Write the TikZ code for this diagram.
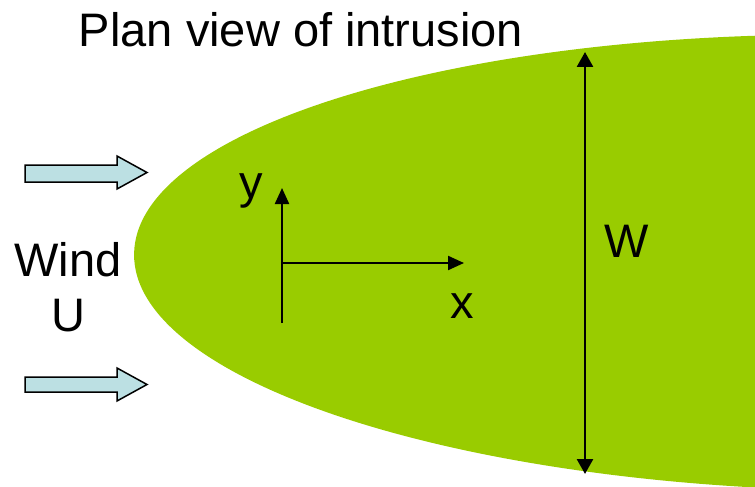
\documentclass[tikz,border=0pt]{standalone}
\usepackage{fontspec}
\setmainfont{Liberation Sans}
\usetikzlibrary{arrows.meta}
\definecolor{intrgreen}{HTML}{99CC00}
\definecolor{windblue}{HTML}{BCE0E3}
\tikzset{
  bigtext/.style={font=\fontsize{47}{55}\selectfont, inner sep=0pt},
  axisline/.style={line width=2.2pt, -{Triangle[length=16pt,width=14pt]}},
  wline/.style={line width=2.7pt, {Triangle[length=15pt,width=16pt]}-{Triangle[length=15pt,width=16pt]}},
  windarrow/.style={draw=black, line width=1.5pt, fill=windblue, line join=miter},
}
\begin{document}
\begin{tikzpicture}[x=1pt,y=-1pt]
\useasboundingbox (0,0) rectangle (755,487);
% intrusion
\begin{scope}
\clip (0,0) rectangle (755,487);
\fill[intrgreen, rotate around={-0.7:(854,262.7)}] (854,262.7) ellipse [x radius=720pt, y radius=228pt];
\end{scope}
% title
\node[bigtext, anchor=base] (title) at (301,47) {Plan view of intrusion};
% wind arrows
\draw[windarrow] (25,165) -- (117,165) -- (117,156) -- (147,172.5) -- (117,189) -- (117,182) -- (25,182) -- cycle;
\draw[windarrow] (25,377) -- (117,377) -- (117,368) -- (147,384.5) -- (117,401) -- (117,392) -- (25,392) -- cycle;
% wind label
\node[bigtext, anchor=north, align=center] (wind) at (68,242) {Wind\\U};
% axes
\coordinate (O) at (282,263);
\coordinate (ybot) at (282,323);
\coordinate (ytop) at (282,188);
\coordinate (xend) at (464,263);
\draw[axisline] (ybot) -- (ytop);
\draw[axisline] (O) -- (xend);
\node[bigtext, anchor=base] (ylab) at (251,198) {y};
\node[bigtext, anchor=base] (xlab) at (462,318) {x};
% width
\coordinate (wtop) at (585,52);
\coordinate (wbot) at (585,474);
\draw[wline] (wtop) -- (wbot);
\node[bigtext, anchor=base] (wlab) at (627,257) {W};
\end{tikzpicture}
\end{document}
